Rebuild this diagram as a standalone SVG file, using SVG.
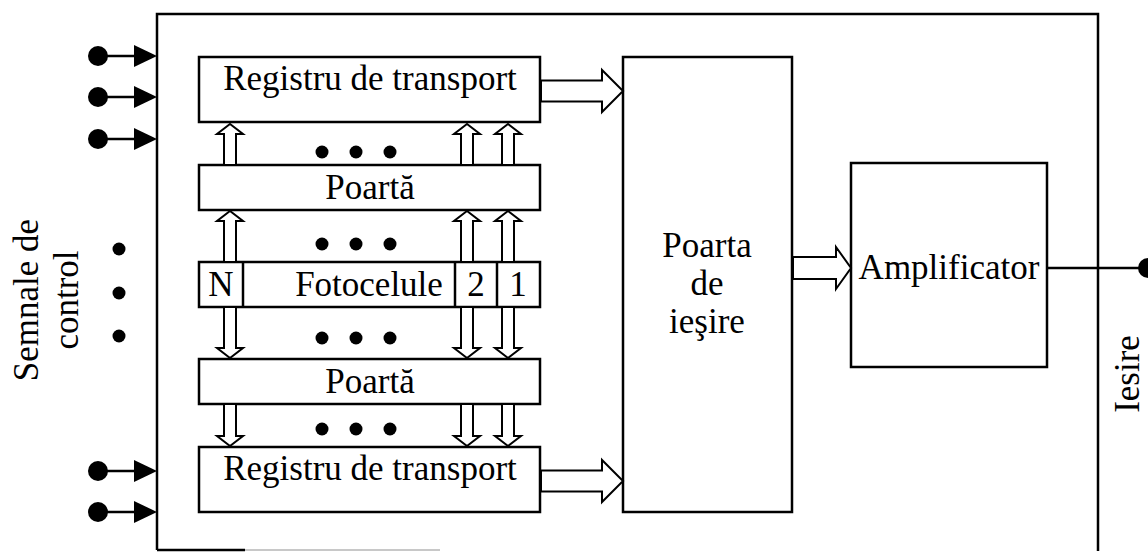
<svg xmlns="http://www.w3.org/2000/svg" width="1148" height="553" viewBox="0 0 1148 553">
<style>
.box{fill:#fff;stroke:#000;stroke-width:2.5}
.t{font-family:"Liberation Serif","Times New Roman",serif;font-size:35px;fill:#000}
.m{text-anchor:middle}
.ha{fill:#fff;stroke:#000;stroke-width:2;stroke-linejoin:miter}
.ln{stroke:#000;stroke-width:2.5;fill:none}
.dot{fill:#000}
</style>
<defs>
<g id="inArrow"><circle cx="0" cy="0" r="10" class="dot"/><line x1="0" y1="0" x2="36" y2="0" class="ln"/><polygon points="36,-11 59,0 36,11" class="dot"/></g>
</defs>
<rect x="0" y="0" width="1148" height="553" fill="#fff"/>
<g id="outer">
<path d="M157,550 V14 H1098 V551" class="ln"/>
<line x1="157" y1="550" x2="245" y2="550" class="ln"/>
<line x1="245" y1="550" x2="440" y2="550" stroke="#c8c8c8" stroke-width="2"/>
</g>
<g id="inputs">
<use href="#inArrow" x="98" y="56"/>
<use href="#inArrow" x="98" y="97"/>
<use href="#inArrow" x="98" y="139"/>
<use href="#inArrow" x="98" y="471"/>
<use href="#inArrow" x="98" y="512"/>
<circle cx="119" cy="249" r="6.5" class="dot"/>
<circle cx="119" cy="293" r="6.5" class="dot"/>
<circle cx="119" cy="336" r="6.5" class="dot"/>
</g>
<g id="label-semnale">
<text class="t m" transform="translate(38,300) rotate(-90)">Semnale de</text>
<text class="t m" transform="translate(78,300) rotate(-90)">control</text>
</g>
<g id="reg-top"><rect x="199" y="57" width="341" height="65" class="box"/><text class="t m" x="370" y="90">Registru de transport</text></g>
<g id="poarta-top"><rect x="199" y="165" width="341" height="45" class="box"/><text class="t m" x="370" y="199">Poartă</text></g>
<g id="fotocelule">
<rect x="199" y="262" width="341" height="45" class="box"/>
<line x1="243" y1="262" x2="243" y2="307" class="ln"/>
<line x1="455" y1="262" x2="455" y2="307" class="ln"/>
<line x1="497" y1="262" x2="497" y2="307" class="ln"/>
<text class="t m" x="221" y="296">N</text>
<text class="t m" x="369" y="296">Fotocelule</text>
<text class="t m" x="476" y="296">2</text>
<text class="t m" x="518" y="296">1</text>
</g>
<g id="poarta-bot"><rect x="199" y="359" width="341" height="45" class="box"/><text class="t m" x="370" y="393">Poartă</text></g>
<g id="reg-bot"><rect x="199" y="447" width="341" height="65" class="box"/><text class="t m" x="370" y="480">Registru de transport</text></g>
<g id="poarta-iesire"><rect x="623" y="57" width="169" height="455" class="box"/>
<text class="t m" x="707" y="257">Poarta</text>
<text class="t m" x="707" y="295">de</text>
<text class="t m" x="707" y="333">ieşire</text></g>
<g id="amplificator"><rect x="851" y="163" width="196" height="204" class="box"/><text class="t m" x="949" y="279">Amplificator</text></g>
<g id="label-iesire"><text class="t m" transform="translate(1139,374) rotate(-90)">Iesire</text></g>
<g id="dots">
<circle cx="322" cy="152" r="6.5" class="dot"/><circle cx="356" cy="152" r="6.5" class="dot"/><circle cx="390" cy="152" r="6.5" class="dot"/>
<circle cx="322" cy="244" r="6.5" class="dot"/><circle cx="356" cy="244" r="6.5" class="dot"/><circle cx="390" cy="244" r="6.5" class="dot"/>
<circle cx="322" cy="338" r="6.5" class="dot"/><circle cx="356" cy="338" r="6.5" class="dot"/><circle cx="390" cy="338" r="6.5" class="dot"/>
<circle cx="322" cy="429" r="6.5" class="dot"/><circle cx="356" cy="429" r="6.5" class="dot"/><circle cx="390" cy="429" r="6.5" class="dot"/>
</g>
<g id="connectors">
<path class="ha" d="M224,165 V134 H217 L230,124 L243,134 H236 V165 Z"/>
<path class="ha" d="M461,165 V134 H454 L467,124 L480,134 H473 V165 Z"/>
<path class="ha" d="M502,165 V134 H495 L508,124 L521,134 H514 V165 Z"/>
<path class="ha" d="M224,262 V221 H217 L230,211 L243,221 H236 V262 Z"/>
<path class="ha" d="M461,262 V221 H454 L467,211 L480,221 H473 V262 Z"/>
<path class="ha" d="M502,262 V221 H495 L508,211 L521,221 H514 V262 Z"/>
<path class="ha" d="M224,307 V348 H217 L230,358 L243,348 H236 V307 Z"/>
<path class="ha" d="M461,307 V348 H454 L467,358 L480,348 H473 V307 Z"/>
<path class="ha" d="M502,307 V348 H495 L508,358 L521,348 H514 V307 Z"/>
<path class="ha" d="M224,404 V436 H217 L230,446 L243,436 H236 V404 Z"/>
<path class="ha" d="M461,404 V436 H454 L467,446 L480,436 H473 V404 Z"/>
<path class="ha" d="M502,404 V436 H495 L508,446 L521,436 H514 V404 Z"/>
<path class="ha" d="M541,80.5 H602 V70 L623,91 L602,112 V101.5 H541 Z"/>
<path class="ha" d="M541,470.5 H602 V460 L623,481 L602,502 V491.5 H541 Z"/>
<path class="ha" d="M793,257 H836 V247 L851,268 L836,289 V279 H793 Z"/>
<line x1="1047" y1="268" x2="1140" y2="268" class="ln"/>
<circle cx="1148" cy="268" r="10" class="dot"/>
</g>
</svg>
